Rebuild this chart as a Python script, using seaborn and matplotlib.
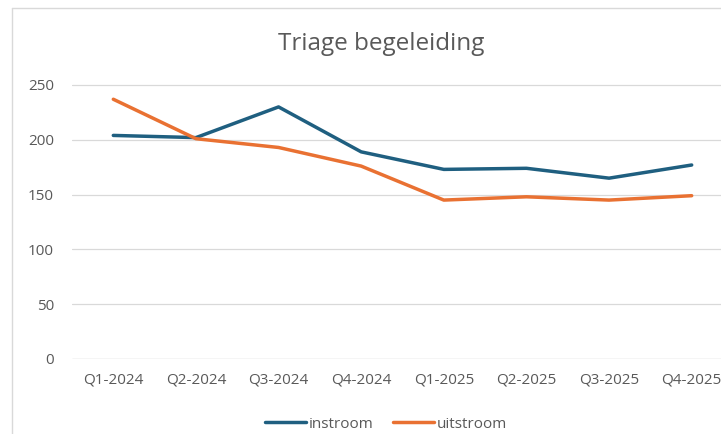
import matplotlib
matplotlib.use("Agg")
import matplotlib.pyplot as plt
import seaborn as sns
import pandas as pd
from matplotlib.lines import Line2D

categories = ["Q1-2024", "Q2-2024", "Q3-2024", "Q4-2024", "Q1-2025", "Q2-2025", "Q3-2025", "Q4-2025"]
instroom = [204, 202, 230, 189, 173, 174, 165, 177]
uitstroom = [237, 201, 193, 176, 145, 148, 145, 149]
yticks = [0, 50, 100, 150, 200, 250]

sns.set_theme(style="white")
plt.rcParams['font.family'] = ['Open Sans', 'DejaVu Sans']

df = pd.DataFrame({
    "kwartaal": categories * 2,
    "waarde": instroom + uitstroom,
    "reeks": ["instroom"] * len(categories) + ["uitstroom"] * len(categories),
})
df["x"] = list(range(len(categories))) * 2

fig = plt.figure(figsize=(7.21, 4.34), dpi=100)
W, H = 721, 434
left, right = 72, 733
top_px, bot_px = 80, 359
ax = fig.add_axes([left / W, 1 - bot_px / H, (right - left) / W, (bot_px - top_px) / H])

palette = {"instroom": "#1F5F80", "uitstroom": "#E97132"}
sns.lineplot(data=df, x="x", y="waarde", hue="reeks", palette=palette, ax=ax,
             linewidth=2.5, legend=False, sort=False)

ax.set_xlim(-0.5, len(categories) - 0.5)
ax.set_ylim(0, (bot_px - top_px) / 1.096)
ax.set_yticks(yticks)
ax.set_yticklabels([str(v) for v in yticks])
ax.set_xticks(range(len(categories)))
ax.set_xticklabels(categories)
ax.set_xlabel("")
ax.set_ylabel("")
for s in ax.spines.values():
    s.set_visible(False)
ax.grid(axis="y", color="#D9D9D9", linewidth=0.9)
ax.set_axisbelow(True)
ax.tick_params(axis="both", length=0, labelsize=11, colors="#595959")
ax.tick_params(axis="x", pad=10)
ax.tick_params(axis="y", pad=13)
ax.axhline(0, color="#D9D9D9", linewidth=0.9, zorder=0)

fig.text(381 / W, 1 - 44 / H, "Triage begeleiding", ha="center", va="center",
         fontsize=17.5, color="#595959")

handles = [Line2D([], [], color=palette["instroom"], linewidth=2.5),
           Line2D([], [], color=palette["uitstroom"], linewidth=2.5)]
fig.legend(handles, ["instroom", "uitstroom"], loc="center", bbox_to_anchor=(386 / W, 1 - 424 / H),
           ncol=2, frameon=False, fontsize=11, labelcolor="#595959", handlelength=2.7,
           handletextpad=0.15, columnspacing=1.3, borderpad=0, borderaxespad=0)

# chart border (partially cropped)
fig.add_artist(Line2D([12 / W, 12 / W], [0, 1 - 8 / H], transform=fig.transFigure, color="#D9D9D9", linewidth=1))
fig.add_artist(Line2D([12 / W, 1], [1 - 8 / H, 1 - 8 / H], transform=fig.transFigure, color="#D9D9D9", linewidth=1))

fig.savefig("out.png", dpi=100)
